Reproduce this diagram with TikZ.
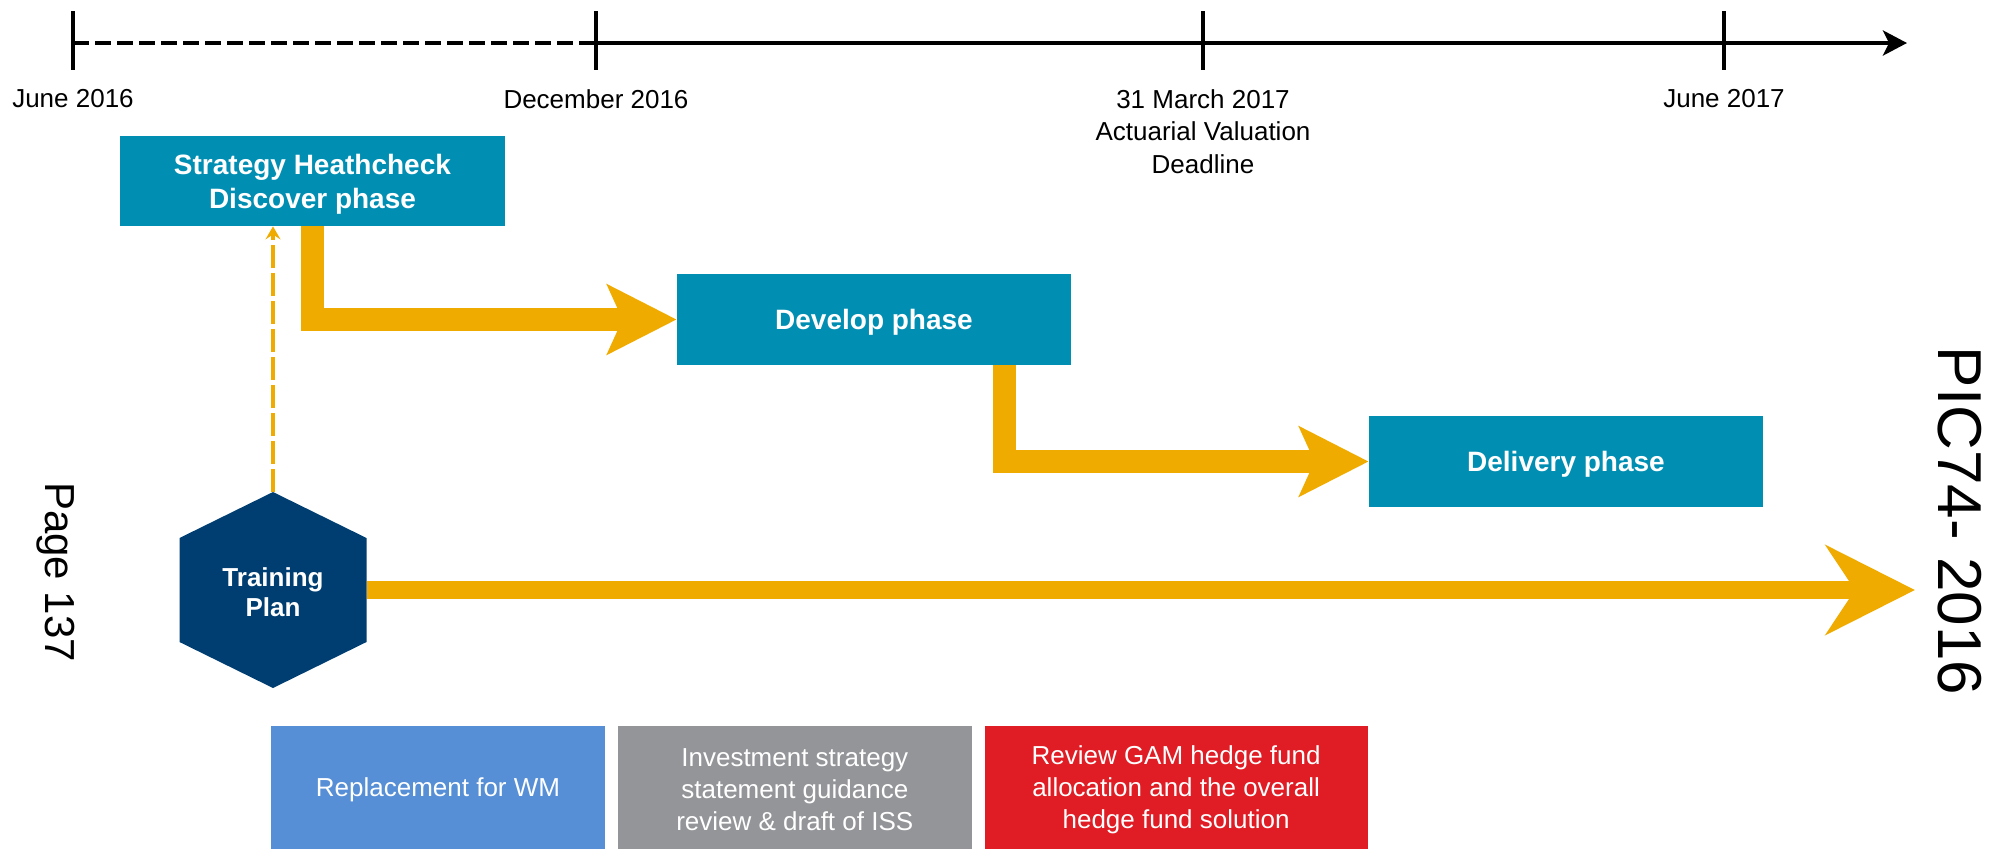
\documentclass[tikz,border=0pt]{standalone}
\usepackage{fontspec}
\setmainfont{Liberation Sans}
\usetikzlibrary{positioning,arrows.meta}

\definecolor{phaseblue}{RGB}{0,142,178}
\definecolor{flowgold}{RGB}{240,171,0}
\definecolor{trainnavy}{RGB}{0,62,114}
\definecolor{wmblue}{RGB}{86,143,214}
\definecolor{issgray}{RGB}{148,149,153}
\definecolor{gamred}{RGB}{224,28,36}

\begin{document}
\begin{tikzpicture}[x=0.5pt,y=-0.5pt]
        \tikzstyle{every node}=[align=center, font=\fontsize{13pt}{16pt}\selectfont]
        \tikzstyle{date}=[inner sep=0pt, font=\fontsize{13pt}{16.25pt}\selectfont]
        \tikzstyle{phase}=[fill=phaseblue, text=white, text depth=0pt, minimum width=197pt, minimum height=45.5pt, font=\bfseries\fontsize{14pt}{17pt}\selectfont]
        \tikzstyle{task}=[text=white, minimum height=64pt]
        \tikzstyle{flow}=[draw=flowgold, line width=11.5pt, line join=miter, -{Stealth[length=34.5pt, width=34.5pt, inset=7.5pt]}]

        \useasboundingbox (0,0) rectangle (1993,848);

        \coordinate (t1) at (73,43);
        \coordinate (t2) at (596,43);
        \coordinate (t3) at (1203,43);
        \coordinate (t4) at (1724,43);
        \coordinate (tend) at (1907,43);

        \draw[line width=2pt, dash pattern=on 8pt off 3pt] (t1) -- (t2);
        \draw[line width=2pt, -{Stealth[length=12pt, width=12.5pt, inset=3pt]}] (t2) -- (tend);
        \foreach \t in {t1,t2,t3,t4}
            \draw[line width=2pt] ([yshift=16pt]\t) -- ([yshift=-13.5pt]\t);

        \node (d1) [date, below=23pt of t1] {June 2016};
        \node (d2) [date, below=23pt of t2] {December 2016};
        \node (d3) [date, below=23pt of t3] {31 March 2017\\Actuarial Valuation\\Deadline};
        \node (d4) [date, below=23pt of t4] {June 2017};

        \node (strat) [phase, minimum width=192.5pt, minimum height=45pt] at (312.5,181) {Strategy Heathcheck\\Discover phase};
        \node (develop) [phase] at (874,319.5) {Develop phase};
        \node (delivery) [phase] at (1566,461.5) {Delivery phase};

        \draw[flow] (strat.south) |- (develop.west);
        \draw[flow] ([xshift=65pt]develop.south) |- (delivery.west);

        \fill[trainnavy] (273,492) -- (366.5,538) -- (366.5,642) -- (273,688) -- (179.5,642) -- (179.5,538) -- cycle;
        \node (train) [text=white, font=\bfseries\fontsize{13pt}{15pt}\selectfont] at (273,592) {Training\\Plan};
        \coordinate (hextop) at (273,492);
        \coordinate (hexright) at (366.5,590);
        \coordinate (bigend) at (1915,590);

        \draw[flowgold, line width=2pt, dash pattern=on 11.5pt off 2.5pt, -{Stealth[length=6.5pt, width=7.5pt, inset=2.5pt]}] (hextop) -- (hextop |- strat.south);
        \draw[flowgold, line width=9pt, -{Stealth[length=44.5pt, width=44.5pt, inset=14.5pt]}] (hexright) -- (bigend);

        \node (wm) [task, fill=wmblue, minimum width=167pt] at (438,790) {Replacement for WM};
        \node (iss) [task, fill=issgray, minimum width=177pt, right=6pt of wm] {Investment strategy\\statement guidance\\review \& draft of ISS};
        \node (gam) [task, fill=gamred, minimum width=191.5pt, right=6pt of iss] {Review GAM hedge fund\\allocation and the overall\\hedge fund solution};

        \node (page) [rotate=-90, font=\fontsize{21pt}{21pt}\selectfont] at (56,572) {Page 137};
        \node (pic) [rotate=-90, font=\fontsize{31pt}{31pt}\selectfont] at (1960,521) {PIC74- 2016};
\end{tikzpicture}
\end{document}
